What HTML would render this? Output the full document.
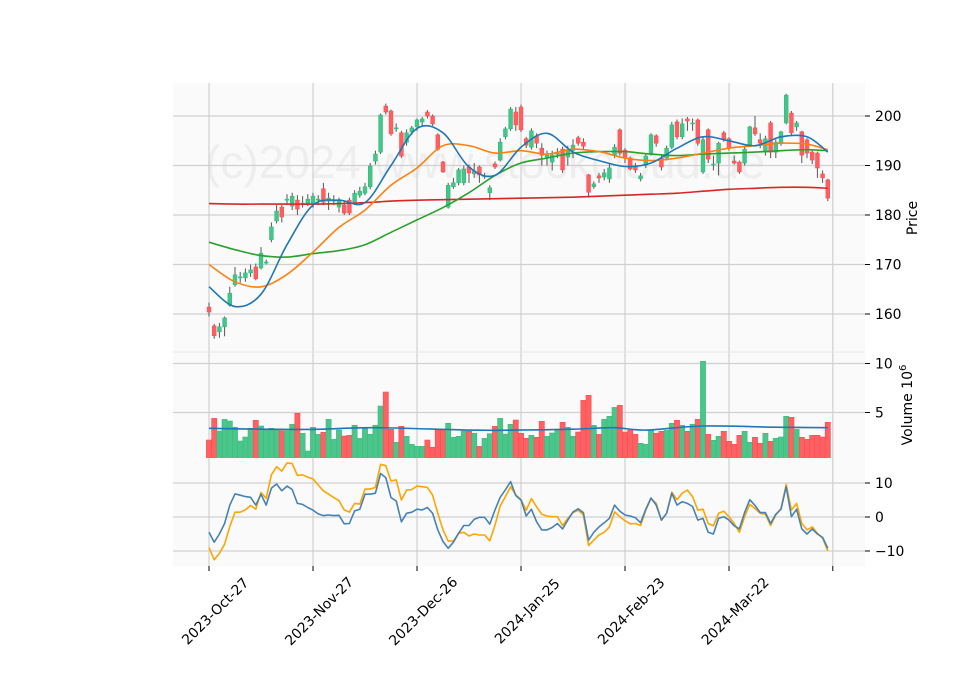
<!DOCTYPE html>
<html><head><meta charset="utf-8"><style>
body{margin:0;background:#fff;}
svg{display:block;font-family:"DejaVu Sans","Liberation Sans",sans-serif;}
</style></head><body>
<svg id="c" width="960" height="690" viewBox="0 0 960 690" xmlns="http://www.w3.org/2000/svg">
<rect width="960" height="690" fill="#fff"/>
<rect x="173" y="83" width="692" height="268" fill="#fafafa"/>
<rect x="173" y="352" width="692" height="106" fill="#fafafa"/>
<rect x="173" y="458" width="692" height="108" fill="#fafafa"/>
<text x="205" y="178" font-size="46" font-family="Liberation Sans, sans-serif" fill="#eeeeee">(c)2024 www.stockcloud.de</text>
<g id="grid"></g><g id="marks"></g><g id="axes"></g>
<text transform="translate(917,218) rotate(-90)" font-size="14" text-anchor="middle" fill="#000">Price</text>
<text transform="translate(912,405) rotate(-90)" font-size="14" text-anchor="middle" fill="#000">Volume  10<tspan dy="-6" font-size="10">6</tspan></text>
</svg>
<script>
const O=[161.4,157.6,156.4,157.4,161.8,165.9,167.5,167.3,168.3,169.5,169.3,170.5,175.0,178.8,181.6,183.0,181.8,183.0,182.3,182.4,182.4,183.2,185.3,182.8,183.0,181.6,182.0,183.0,182.6,184.0,184.4,185.7,190.9,192.7,202.0,201.0,197.6,196.6,194.7,196.8,197.8,198.8,200.8,200.0,196.2,190.7,181.6,185.7,186.5,186.5,189.7,188.3,189.7,187.9,184.5,190.3,191.1,195.8,197.4,200.8,201.8,195.4,193.7,196.0,193.5,191.7,190.7,192.5,193.3,191.7,193.1,195.6,194.7,188.1,185.7,187.9,187.7,187.3,192.1,197.2,193.1,191.5,189.9,187.3,190.1,192.5,196.0,191.5,191.5,193.7,198.8,195.8,199.4,198.4,199.2,188.7,197.2,190.3,190.5,196.6,195.4,190.9,190.7,190.5,194.1,197.6,195.2,192.7,198.6,192.7,194.7,198.6,200.6,197.8,196.8,195.2,192.7,192.5,188.3,187.1];
const H=[162.3,158.0,158.2,159.5,165.5,169.5,168.5,169.2,170.0,170.2,173.5,171.0,178.5,182.0,182.0,184.2,184.5,184.0,183.8,184.2,184.5,184.0,186.5,184.5,184.0,183.5,182.8,183.5,185.0,185.7,186.5,190.5,193.0,200.5,202.5,201.3,198.5,197.0,197.3,198.0,199.5,199.8,201.2,200.3,196.5,190.9,186.5,187.5,189.5,190.0,190.2,190.5,190.0,188.5,186.0,190.8,195.5,197.8,201.8,201.8,202.3,195.8,197.5,196.5,194.5,193.0,193.0,193.5,193.8,194.0,195.3,196.0,195.5,188.3,186.8,188.5,189.3,190.5,194.3,197.5,193.5,191.8,190.5,188.5,192.5,196.5,196.3,192.0,194.0,198.8,199.3,199.5,199.8,199.5,199.5,195.8,197.5,192.0,194.8,197.0,195.7,192.0,191.0,193.8,198.0,200.0,196.5,196.0,199.0,195.3,197.0,204.5,201.0,199.0,197.0,195.5,193.0,192.8,189.0,187.3];
const L=[159.5,155.0,155.2,155.5,161.5,165.5,166.3,166.5,167.5,166.8,169.0,170.0,174.5,178.3,178.5,182.0,181.0,180.0,181.5,181.8,181.5,182.0,182.0,181.0,182.0,180.5,180.0,180.0,182.0,183.5,184.0,185.2,190.2,192.3,200.3,196.0,196.8,191.5,194.0,196.2,197.0,198.0,199.5,198.0,193.0,188.5,181.3,185.3,186.0,186.0,186.5,187.5,186.5,187.3,183.0,189.3,190.8,195.3,197.0,197.0,196.8,193.5,193.2,193.5,190.0,190.0,189.0,191.5,188.5,190.0,191.5,194.0,193.3,183.5,185.3,186.5,187.0,186.5,191.5,192.0,190.5,189.0,188.5,186.8,189.5,192.0,193.8,189.0,191.0,193.3,195.3,195.3,197.0,197.0,194.0,188.3,190.5,189.0,188.0,194.8,193.0,190.2,188.3,190.0,193.8,196.0,193.5,192.0,191.5,191.5,194.0,198.3,196.0,197.0,190.5,191.5,190.3,187.5,186.5,182.8];
const C=[160.4,155.6,157.4,159.2,164.2,167.9,167.5,168.3,168.9,167.1,172.3,170.5,177.6,180.8,179.6,183.2,183.8,181.2,182.4,183.2,183.8,183.2,182.6,183.4,183.0,183.0,180.4,180.4,184.4,184.8,185.7,189.9,192.3,200.2,200.8,196.4,197.6,191.9,196.6,197.6,199.2,199.4,200.0,198.4,193.3,188.7,186.0,186.5,189.1,189.3,188.5,188.9,188.1,187.9,185.5,189.7,194.7,197.4,201.4,198.2,197.2,194.1,197.0,194.5,192.1,192.1,192.1,192.5,189.1,193.1,194.1,194.5,193.9,184.6,186.3,187.5,188.5,189.5,193.7,192.5,191.7,189.3,189.1,187.9,191.9,196.2,194.5,189.7,193.5,198.2,195.8,198.4,199.0,198.6,194.5,195.2,191.3,190.3,194.5,195.2,193.5,190.5,188.7,193.3,197.8,196.4,194.5,195.4,192.7,194.7,196.8,204.2,196.6,198.6,192.1,192.5,191.1,189.5,187.5,183.4];
const VOL=[2.19,4.4,3.11,4.3,4.13,3.49,2.09,2.5,3.39,4.2,3.62,3.28,3.39,3.28,3.14,3.14,3.8,4.92,2.88,1.07,3.49,2.77,2.98,4.3,2.26,3.21,2.6,2.67,3.7,2.36,3.49,2.77,3.7,5.66,7.09,3.28,1.96,3.59,2.57,1.75,1.55,1.55,2.19,1.45,3.21,3.21,3.9,2.47,2.57,3.11,3.08,2.88,1.55,2.36,2.84,3.59,4.4,2.8,3.8,
4.23,2.88,2.37,2.67,2.47,4.1,2.57,2.91,3.21,4.0,3.49,2.57,3.01,6.24,6.75,3.69,2.77,4.3,4.61,5.52,5.73,3.0,3.2,2.77,1.86,1.75,3.18,2.88,3.08,3.18,3.9,4.2,3.69,3.08,3.8,4.3,
10.22,2.77,2.16,2.57,3.08,2.06,1.75,2.67,3.08,1.96,2.47,1.86,2.88,2.06,2.37,2.5,4.61,4.51,3.28,2.47,2.26,2.67,2.67,2.5,4.0];
const MA_IDX=[0,5,10,15,20,25,30,35,40,45,50,55,60,65,70,75,80,85,90,95,100,105,110,115,119];
const MA_A=[165.5,161.5,164,174,182,183,182.5,190,197.5,196.6,189.7,188,193.7,196.5,192.7,191,189.8,190.5,193.5,195.8,195,194,195.8,195.8,192.7];
const MA_B=[170,166.5,165.5,168,172.5,177.5,181,186,189.5,194,194,192.5,193,192.3,193.3,192.8,191.5,191,191.5,192.5,193.5,194,194.5,194.3,193.2];
const MA_C=[174.5,173,171.8,171.5,172.2,172.8,174,176.5,179,181.5,184.5,188,190.5,191.5,192.5,192.8,192.8,192.3,192,192.3,192.5,192.7,193,193.2,193];
const MA_D=[182.3,182.2,182.2,182.2,182.2,182.3,182.5,182.8,183,183.1,183.2,183.3,183.4,183.5,183.6,183.8,184,184.2,184.4,184.8,185.2,185.4,185.6,185.6,185.4];
const VMA_IDX=[0,10,20,32,50,59,70,78,84,95,109,119];
const VMA=[3.39,3.3,3.28,3.45,3.2,3.2,3.3,3.45,3.2,3.62,3.5,3.45];
const IND_A=[-4.5,-7.4,-5,-1.9,3.5,6.8,6.4,6.0,5.8,3.5,6.7,3.5,8.5,9.7,7.7,9.1,8.1,4.0,3.7,2.8,2.0,0.9,0.4,0.6,0.4,0.5,-2,-1.9,1.8,2.3,6.7,6.7,7.0,12.8,11.6,5.7,4.7,-1.4,1.1,1.4,2.3,2.1,2.8,1.1,-3.8,-7.2,-9.2,-7.4,-4.8,-2.5,-2.5,-0.7,-0.1,-0.1,-2.1,2.1,5.8,8.0,10.4,
6.3,5.0,0.3,2.3,-1.4,-3.8,-3.8,-3.1,-1.9,-3.5,-0.9,1.5,2.4,1.3,-6.8,-4.5,-2.9,-1.7,-0.4,3.5,1.7,0.6,0.3,-0.2,-1.7,2.3,5.6,3.5,-0.9,1.1,7.0,3.5,4.5,4.0,3.1,-0.9,-0.4,-4.5,-5.0,-0.4,0.1,-0.9,-2.6,-3.5,1.3,5.1,3.4,1.3,1.3,-1.9,0.8,2.3,8.9,0.1,2.3,-3.5,-5.0,-3.5,-5.0,-6.0,-9.2];
const IND_B=[-9.0,-12.6,-10.7,-8.0,-2.8,1.4,1.4,2.1,3.4,2.3,7.2,5.5,12.4,14.8,13.5,15.9,15.7,12.2,12.4,11.7,11.2,9.4,7.7,6.7,5.7,4.8,2.1,1.4,4.0,3.8,8.2,8.2,8.7,15.5,15.1,10.6,10.9,5.0,7.9,8.1,9.1,8.9,8.7,6.4,1.1,-3.8,-7.1,-7.1,-4.8,-4.5,-5.6,-5.0,-5.3,-5.3,-7.0,-2.4,3.3,6.0,8.9,
6.5,5.1,2.0,5.4,3.0,0.8,0.3,0.1,0.1,-2.5,-0.4,1.3,2.0,0.6,-8.4,-6.8,-5.3,-4.5,-2.9,1.5,0.1,-1.1,-2.0,-1.9,-2.5,2.0,5.4,4.0,-0.9,1.1,7.3,5.1,7.0,7.9,6.0,2.0,2.3,-1.9,-2.6,1.1,1.7,0.1,-1.9,-4.5,0.1,3.7,2.5,1.1,0.8,-2.5,0.6,2.5,9.6,2.0,4.0,-1.9,-3.8,-2.9,-4.8,-6.2,-10.0];
const X_TICK_IDX=[0,20,40,60,80,100,120];
const X_TICK_LABELS=["2023-Oct-27","2023-Nov-27","2023-Dec-26","2024-Jan-25","2024-Feb-23","2024-Mar-22",""];
const PRICE_TICKS=[160,170,180,190,200];
const VOL_TICKS=[5,10];
const IND_TICKS=[-10,0,10];

const NS="http://www.w3.org/2000/svg";
const xs=i=>209+i*5.2;
const yp=p=>116+(200-p)*4.95;
const yv=v=>461.5-v*9.8;
const yi=v=>517-v*3.4;
function mk(tag,attrs,parent){const e=document.createElementNS(NS,tag);for(const k in attrs)e.setAttribute(k,attrs[k]);parent.appendChild(e);return e;}
const grid=document.getElementById('grid'),marks=document.getElementById('marks'),axes=document.getElementById('axes');
X_TICK_IDX.forEach((t,k)=>{
  const x=xs(t)+(t===120?-0.2:0);
  const g=mk('line',{x1:x,x2:x,y1:83,y2:566,stroke:'#d0d0d0','stroke-width':1.2},grid);
  
  
  const tk=mk('line',{x1:x,x2:x,y1:566,y2:571,stroke:'#000','stroke-width':1},axes);
  
  
  if(X_TICK_LABELS[k]){
    const tx=mk('text',{transform:`translate(${x+6},${611}) rotate(-45)`,'font-size':13.9,'text-anchor':'middle',dy:'5',fill:'#000'},axes);
    tx.textContent=X_TICK_LABELS[k];
    
    
  }
});
function yTicks(ticks,f,fmt){ticks.forEach(t=>{const y=f(t);
  const g=mk('line',{x1:173,x2:865,y1:y,y2:y,stroke:'#d0d0d0','stroke-width':1.2},grid);
  
  
  const tk=mk('line',{x1:865,x2:870,y1:y,y2:y,stroke:'#000','stroke-width':1},axes);
  
  
  const tx=mk('text',{x:875,y:y+5,'font-size':13.9,fill:'#000'},axes);tx.textContent=fmt(t);
  
  
});}
yTicks(PRICE_TICKS,yp,t=>String(t));
yTicks(VOL_TICKS,yv,t=>String(t));
yTicks(IND_TICKS,yi,t=>t<0?'\u2212'+(-t):String(t));
const sep=mk('line',{x1:173,x2:865,y1:352,y2:352,stroke:'#e6e6e6','stroke-width':1},grid);


C.forEach((c,i)=>{const o=O[i],up=c>=o,x=xs(i);
  const col=up?'#2fbf7c':'#fd4f55',fill=up?'#46c48a':'#ff5f60';
  const w=mk('line',{x1:x,x2:x,y1:yp(H[i]),y2:yp(L[i]),stroke:'#555','stroke-width':1},marks);
  
  
  const t=Math.min(yp(o),yp(c)),h=Math.max(Math.abs(yp(o)-yp(c)),1);
  const b=mk('rect',{x:x-1.9,y:t,width:3.8,height:h,fill:fill,stroke:col,'stroke-width':0.6},marks);
  
  
});
const clip=mk('clipPath',{id:'vclip'},marks);mk('rect',{x:173,y:352,width:692,height:106},clip);
const vg=mk('g',{'clip-path':'url(#vclip)'},marks);
VOL.forEach((v,i)=>{const up=C[i]>=O[i];
  const r=mk('rect',{x:xs(i)-2.6,y:yv(v),width:5.2,height:461.5-yv(v),fill:up?'#4ac68b':'#ff6163',stroke:up?'#3dbb7e':'#f84d52','stroke-width':0.6},vg);
  
  
});
function poly(idx,vals,f,color,w,name,parent){
  const pts=vals.map((v,k)=>xs(idx?idx[k]:k).toFixed(1)+','+f(v).toFixed(1)).join(' ');
  const p=mk('polyline',{points:pts,fill:'none',stroke:color,'stroke-width':w,'stroke-linejoin':'round'},parent);
  
  
}
function smooth(idx,vals,f,color,w,name,parent){
  const P=vals.map((v,k)=>[xs(idx[k]),f(v)]);
  let d=`M${P[0][0].toFixed(1)},${P[0][1].toFixed(1)}`;
  for(let k=0;k<P.length-1;k++){
    const p0=P[Math.max(k-1,0)],p1=P[k],p2=P[k+1],p3=P[Math.min(k+2,P.length-1)];
    const c1=[p1[0]+(p2[0]-p0[0])/6,p1[1]+(p2[1]-p0[1])/6],c2=[p2[0]-(p3[0]-p1[0])/6,p2[1]-(p3[1]-p1[1])/6];
    d+=`C${c1[0].toFixed(1)},${c1[1].toFixed(1)} ${c2[0].toFixed(1)},${c2[1].toFixed(1)} ${p2[0].toFixed(1)},${p2[1].toFixed(1)}`;
  }
  const p=mk('path',{d:d,fill:'none',stroke:color,'stroke-width':w},parent);
  
  
}
smooth(VMA_IDX,VMA,yv,'#1f77b4',1.6,'volume-moving-average',marks);
smooth(MA_IDX,MA_D,yp,'#d62728',1.6,'moving-average-long',marks);
smooth(MA_IDX,MA_C,yp,'#2ca02c',1.6,'moving-average-slow',marks);
smooth(MA_IDX,MA_B,yp,'#ff7f0e',1.6,'moving-average-medium',marks);
smooth(MA_IDX,MA_A,yp,'#1f77b4',1.6,'moving-average-fast',marks);
const ic=mk('clipPath',{id:'iclip'},marks);mk('rect',{x:173,y:458,width:692,height:108},ic);
const ig=mk('g',{'clip-path':'url(#iclip)'},marks);
poly(null,IND_B,yi,'#ffa500',1.6,'indicator-signal-line',ig);
poly(null,IND_A,yi,'#4682b4',1.6,'indicator-line',ig);
</script>
</body></html>
